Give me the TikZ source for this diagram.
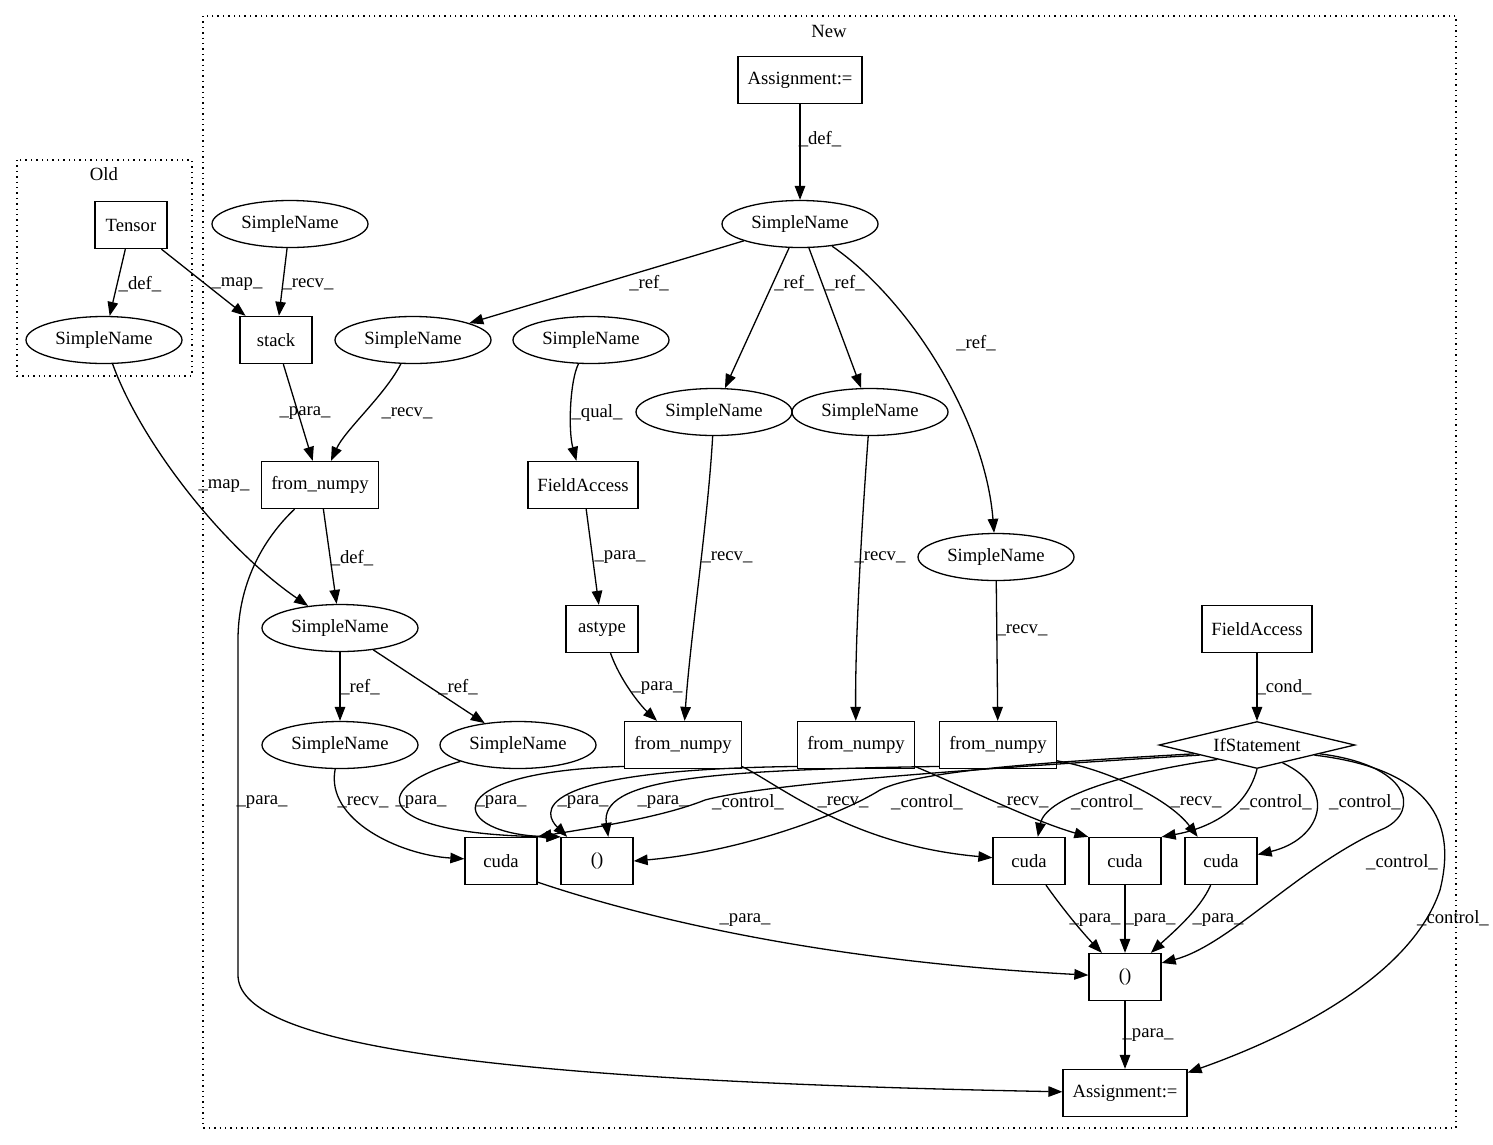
\documentclass[tikz,border=0pt]{standalone}
\usepackage{fontspec}
\setmainfont{Liberation Serif}
\usetikzlibrary{shapes.geometric, arrows.meta}

\begin{document}
\begin{tikzpicture}[x=1pt, y=-1pt, line width=1.3pt,
  every node/.style={font=\fontsize{18.67pt}{22pt}\selectfont},
  box/.style={draw, rectangle, minimum width=72pt, minimum height=47pt, inner xsep=9.5pt},
  oval/.style={draw, ellipse, minimum width=156pt, minimum height=47pt, inner sep=0pt},
  cond/.style={draw, diamond, aspect=4, minimum width=196pt, minimum height=47pt, inner sep=0pt},
  edge/.style={-{Triangle[length=14pt, width=10.5pt]}},
  lbl/.style={inner sep=1pt},
  cluster/.style={dash pattern=on 1.4pt off 4pt}
]
\useasboundingbox (0, 0) rectangle (1493, 1144);

% clusters
\draw[cluster] (17, 160) rectangle (192, 376);
\draw[cluster] (203, 16) rectangle (1456, 1128);
\node (oldlbl) at (104, 174) {Old};
\node (newlbl) at (829, 31) {New};

% nodes
\node[box] (tensor) at (131, 225) {Tensor};
\node[oval] (snold) at (104, 340) {SimpleName};
\node[box] (asgtop) at (800, 80) {Assignment:=};
\node[oval] (sntop) at (800, 224) {SimpleName};
\node[oval] (snstk) at (290, 224) {SimpleName};
\node[box] (stack) at (276, 340) {stack};
\node[oval] (sna) at (413, 340) {SimpleName};
\node[oval] (snb) at (591, 340) {SimpleName};
\node[oval] (snc) at (714, 412) {SimpleName};
\node[oval] (snd) at (870, 412) {SimpleName};
\node[box] (fn1) at (320, 485) {from\_numpy};
\node[box] (fa1) at (583, 485) {FieldAccess};
\node[oval] (sne) at (996, 557) {SimpleName};
\node[oval] (snmid) at (340, 628) {SimpleName};
\node[box] (astype) at (602, 629) {astype};
\node[box] (fa2) at (1257, 629) {FieldAccess};
\node[oval] (snf) at (340, 745) {SimpleName};
\node[oval] (sng) at (518, 745) {SimpleName};
\node[box] (fn2) at (683, 745) {from\_numpy};
\node[box] (fn3) at (856, 745) {from\_numpy};
\node[box] (fn4) at (998, 745) {from\_numpy};
\node[cond] (ifst) at (1257, 745) {IfStatement};
\node[box] (cuda1) at (501, 861) {cuda};
\node[box] (tup1) at (597, 861) {()};
\node[box] (cuda2) at (1029, 861) {cuda};
\node[box] (cuda3) at (1125, 861) {cuda};
\node[box] (cuda4) at (1221, 861) {cuda};
\node[box] (tup2) at (1125, 977) {()};
\node[box] (asgbot) at (1125, 1093) {Assignment:=};

% edges
\draw[edge] (asgtop) -- (sntop);
\draw[edge] (sntop) -- (sna);
\draw[edge] (sntop) -- (snc);
\draw[edge] (sntop) -- (snd);
\draw[edge] (sntop) .. controls (910, 300) and (985, 420) .. (sne);
\draw[edge] (tensor) -- (snold);
\draw[edge] (tensor) -- (stack);
\draw[edge] (snstk) -- (stack);
\draw[edge] (stack) -- (fn1);
\draw[edge] (sna) .. controls (385, 395) and (345, 430) .. (fn1);
\draw[edge] (snb) .. controls (570, 380) and (568, 430) .. (fa1);
\draw[edge] (fa1) -- (astype);
\draw[edge] (astype) .. controls (620, 680) and (640, 705) .. (fn2);
\draw[edge] (snc) .. controls (708, 520) and (690, 640) .. (fn2);
\draw[edge] (snd) .. controls (862, 520) and (855, 640) .. (fn3);
\draw[edge] (sne) -- (fn4);
\draw[edge] (snold) .. controls (140, 440) and (220, 545) .. (snmid);
\draw[edge] (fn1) -- (snmid);
\draw[edge] (fn1) .. controls (262, 540) and (238, 585) .. (238, 640) -- (238, 975)
  .. controls (238, 1040) and (450, 1080) .. (asgbot);
\draw[edge] (snmid) -- (snf);
\draw[edge] (snmid) -- (sng);
\draw[edge] (fa2) -- (ifst);
\draw[edge] (snf) .. controls (325, 820) and (400, 855) .. (cuda1);
\draw[edge] (sng) .. controls (360, 790) and (380, 835) .. (tup1.north west);
\draw[edge] (fn2.200) .. controls (430, 772) and (450, 835) .. (tup1.north west);
\draw[edge] (fn3.200) .. controls (520, 770) and (545, 815) .. (tup1.141);
\draw[edge] (fn4.200) .. controls (700, 770) and (600, 780) .. (tup1.65);
\draw[edge] (ifst.190) .. controls (950, 770) and (760, 785) .. (705, 800)
  .. controls (660, 818) and (590, 828) .. (cuda1.north east);
\draw[edge] (ifst.188) .. controls (1050, 762) and (920, 770) .. (880, 790)
  .. controls (840, 815) and (740, 852) .. (tup1.east);
\draw[edge] (fn2.-20) .. controls (780, 785) and (850, 845) .. (cuda2);
\draw[edge] (fn3.-20) .. controls (960, 785) and (1030, 820) .. (cuda3.north west);
\draw[edge] (fn4.-15) .. controls (1110, 770) and (1170, 800) .. (cuda4.134);
\draw[edge] (ifst.200) .. controls (1110, 775) and (1045, 800) .. (cuda2.70);
\draw[edge] (ifst.south) .. controls (1245, 815) and (1200, 830) .. (cuda3.north east);
\draw[edge] (ifst.-35) .. controls (1340, 790) and (1320, 840) .. (cuda4.10);
\draw[edge] (ifst.-8) .. controls (1410, 765) and (1420, 810) .. (1385, 828)
  .. controls (1300, 865) and (1230, 945) .. (tup2.21);
\draw[edge] (ifst.-10) .. controls (1440, 770) and (1455, 830) .. (1440, 890)
  .. controls (1410, 980) and (1280, 1040) .. (asgbot.18);
\draw[edge] (cuda1.-30) .. controls (620, 910) and (800, 960) .. (tup2);
\draw[edge] (cuda2) .. controls (1060, 905) and (1080, 930) .. (tup2);
\draw[edge] (cuda3) -- (tup2);
\draw[edge] (cuda4) .. controls (1200, 910) and (1170, 935) .. (tup2);
\draw[edge] (tup2) -- (asgbot);

% edge labels
\node[lbl] (l1) at (820, 139) {\_def\_};
\node[lbl] (l2) at (649, 283) {\_ref\_};
\node[lbl] (l3) at (794, 283) {\_ref\_};
\node[lbl] (l4) at (845, 283) {\_ref\_};
\node[lbl] (l5) at (976, 343) {\_ref\_};
\node[lbl] (l6) at (140, 284) {\_def\_};
\node[lbl] (l7) at (237, 284) {\_map\_};
\node[lbl] (l8) at (308, 284) {\_recv\_};
\node[lbl] (l9) at (305, 413) {\_para\_};
\node[lbl] (l10) at (407, 413) {\_recv\_};
\node[lbl] (l11) at (597, 413) {\_qual\_};
\node[lbl] (l12) at (620, 557) {\_para\_};
\node[lbl] (l13) at (727, 557) {\_recv\_};
\node[lbl] (l14) at (880, 557) {\_recv\_};
\node[lbl] (l15) at (1022, 630) {\_recv\_};
\node[lbl] (l16) at (224, 486) {\_map\_};
\node[lbl] (l17) at (352, 558) {\_def\_};
\node[lbl] (l18) at (262, 802) {\_para\_};
\node[lbl] (l19) at (360, 687) {\_ref\_};
\node[lbl] (l20) at (458, 687) {\_ref\_};
\node[lbl] (l21) at (1284, 687) {\_cond\_};
\node[lbl] (l22) at (657, 688) {\_para\_};
\node[lbl] (l23) at (363, 802) {\_recv\_};
\node[lbl] (l24) at (421, 802) {\_para\_};
\node[lbl] (l25) at (501, 802) {\_para\_};
\node[lbl] (l26) at (583, 802) {\_para\_};
\node[lbl] (l27) at (663, 802) {\_para\_};
\node[lbl] (l28) at (748, 802) {\_control\_};
\node[lbl] (l29) at (843, 802) {\_recv\_};
\node[lbl] (l30) at (927, 802) {\_control\_};
\node[lbl] (l31) at (1023, 802) {\_recv\_};
\node[lbl] (l32) at (1107, 802) {\_control\_};
\node[lbl] (l33) at (1196, 802) {\_recv\_};
\node[lbl] (l34) at (1276, 802) {\_control\_};
\node[lbl] (l35) at (1365, 802) {\_control\_};
\node[lbl] (l36) at (1402, 862) {\_control\_};
\node[lbl] (l37) at (1453, 918) {\_control\_};
\node[lbl] (l38) at (745, 920) {\_para\_};
\node[lbl] (l39) at (1095, 920) {\_para\_};
\node[lbl] (l40) at (1150, 920) {\_para\_};
\node[lbl] (l41) at (1218, 920) {\_para\_};
\node[lbl] (l42) at (1148, 1035) {\_para\_};
\end{tikzpicture}
\end{document}
